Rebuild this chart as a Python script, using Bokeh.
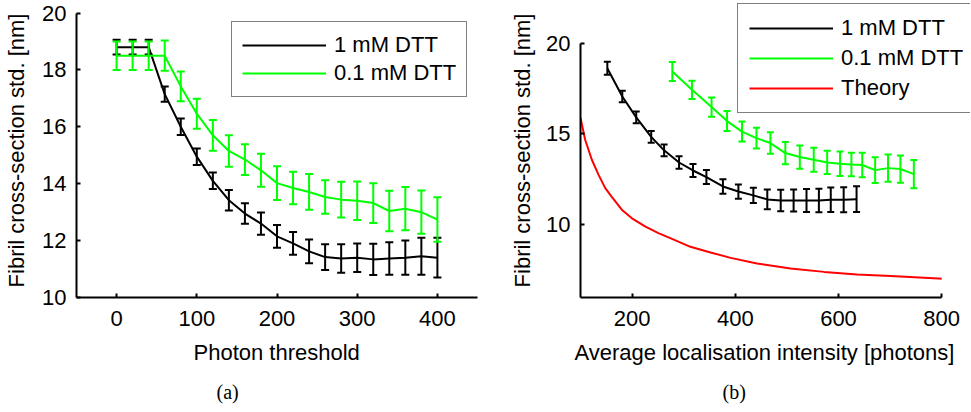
from bokeh.plotting import figure
from bokeh.models import (ColumnDataSource, Legend, LegendItem, Range1d, FixedTicker, Title)
from bokeh.layouts import row
from bokeh.embed import file_html
from bokeh.resources import INLINE

# ---------------- data: panel (a) ----------------
threshold = [0, 20, 40, 60, 80, 100, 120, 140, 160, 180, 200, 220, 240, 260, 280, 300, 320, 340, 360, 380, 400]
a_black = [18.8, 18.8, 18.8, 17.15, 16.0, 14.95, 14.1, 13.42, 12.95, 12.6, 12.15, 11.9, 11.62, 11.42, 11.37, 11.4, 11.34, 11.37, 11.4, 11.45, 11.4]
a_black_err = [0.26, 0.26, 0.26, 0.27, 0.29, 0.29, 0.29, 0.36, 0.36, 0.39, 0.4, 0.4, 0.42, 0.45, 0.5, 0.5, 0.55, 0.57, 0.6, 0.65, 0.7]
a_green = [18.5, 18.5, 18.5, 18.5, 17.42, 16.46, 15.7, 15.15, 14.85, 14.47, 14.02, 13.85, 13.71, 13.53, 13.44, 13.4, 13.32, 13.04, 13.12, 13.0, 12.74]
a_green_err = [0.5, 0.5, 0.5, 0.53, 0.52, 0.53, 0.54, 0.55, 0.54, 0.58, 0.59, 0.57, 0.63, 0.59, 0.63, 0.68, 0.7, 0.71, 0.76, 0.76, 0.78]
a_xticks = [0, 100, 200, 300, 400]
a_yticks = [10, 12, 14, 16, 18, 20]

# ---------------- data: panel (b) ----------------
b_black_x = [152, 181, 208, 237, 262, 291, 318, 344, 376, 406, 435, 462, 488, 513, 538, 562, 585, 610, 635]
b_black = [18.62, 17.06, 15.91, 14.84, 14.1, 13.43, 12.99, 12.63, 12.11, 11.83, 11.62, 11.4, 11.34, 11.34, 11.34, 11.34, 11.38, 11.38, 11.41]
b_black_err = [0.36, 0.32, 0.32, 0.32, 0.32, 0.34, 0.36, 0.39, 0.4, 0.39, 0.42, 0.54, 0.59, 0.61, 0.63, 0.65, 0.67, 0.69, 0.71]
b_green_x = [278, 316, 354, 384, 413, 441, 468, 497, 525, 552, 578, 603, 625, 646, 671, 696, 720, 746]
b_green = [18.44, 17.43, 16.48, 15.71, 15.13, 14.77, 14.5, 13.95, 13.73, 13.58, 13.43, 13.36, 13.32, 13.29, 13.01, 13.12, 13.07, 12.79]
b_green_err = [0.52, 0.5, 0.53, 0.55, 0.55, 0.57, 0.59, 0.61, 0.64, 0.66, 0.64, 0.67, 0.65, 0.67, 0.71, 0.75, 0.75, 0.78]
theory_x = [100, 109, 122, 135, 148, 161, 180, 199, 225, 251, 274, 313, 352, 391, 442, 507, 572, 636, 701, 794, 800]
theory_y = [15.9, 14.68, 13.58, 12.75, 12.02, 11.52, 10.83, 10.37, 9.91, 9.54, 9.27, 8.79, 8.48, 8.18, 7.87, 7.59, 7.41, 7.26, 7.18, 7.04, 7.03]
b_xticks = [200, 400, 600, 800]
b_yticks = [10, 15, 20]

labels = ["1 mM DTT", "0.1 mM DTT", "Theory"]
BLACK, GREEN, RED = "#000000", "#00ff00", "#ff0000"
FONT = "Liberation Sans"
SERIF = "Liberation Serif"
FS = "22px"


def style(p, xticks, yticks, xbounds, ybounds, ylabel, ystandoff):
    p.title.visible = False
    p.xgrid.visible = False
    p.ygrid.visible = False
    p.outline_line_color = None
    p.background_fill_color = "white"
    p.border_fill_color = "white"
    p.xaxis.ticker = FixedTicker(ticks=xticks)
    p.yaxis.ticker = FixedTicker(ticks=yticks)
    p.xaxis.bounds = xbounds
    p.yaxis.bounds = ybounds
    p.xaxis.axis_label = None
    p.yaxis.axis_label = ylabel
    for ax in (p.xaxis[0], p.yaxis[0]):
        ax.axis_line_width = 2
        ax.axis_line_color = "black"
        ax.major_tick_in = 4
        ax.major_tick_out = 0
        ax.major_tick_line_width = 2
        ax.major_tick_line_color = "black"
        ax.minor_tick_line_color = None
        ax.major_label_text_font = FONT
        ax.major_label_text_font_size = FS
        ax.major_label_text_color = "black"
        ax.axis_label_text_font = FONT
        ax.axis_label_text_font_size = FS
        ax.axis_label_text_font_style = "normal"
        ax.axis_label_text_color = "black"
    p.xaxis[0].major_label_standoff = 13
    p.yaxis[0].major_label_standoff = 10
    p.yaxis[0].axis_label_standoff = ystandoff


def errorbars(p, x, y, err, color, cap):
    src = ColumnDataSource(dict(x=x, y=y,
                                lo=[v - e for v, e in zip(y, err)],
                                hi=[v + e for v, e in zip(y, err)]))
    p.segment(x0="x", y0="lo", x1="x", y1="hi", source=src, line_color=color, line_width=2)
    p.scatter(x="x", y="lo", source=src, marker="dash", size=cap, line_color=color, line_width=2)
    p.scatter(x="x", y="hi", source=src, marker="dash", size=cap, line_color=color, line_width=2)
    return p.line(x="x", y="y", source=src, line_color=color, line_width=2)


def make_legend(p, renderers, names, loc, glyph_w, spacing, pad):
    leg = Legend(items=[LegendItem(label=n, renderers=[r]) for n, r in zip(names, renderers)],
                 location=loc)
    leg.border_line_color = "black"
    leg.border_line_width = 1.5
    leg.background_fill_color = "white"
    leg.background_fill_alpha = 1
    leg.label_text_font = FONT
    leg.label_text_font_size = FS
    leg.label_text_color = "black"
    leg.glyph_width = glyph_w
    leg.glyph_height = 20
    leg.label_height = 20
    leg.label_standoff = 8
    leg.spacing = spacing
    leg.padding = pad
    leg.margin = 0
    p.add_layout(leg)


def below_text(p, text, offset, standoff, font, size):
    t = Title(text=text, align="left", offset=offset, standoff=standoff, text_font=font,
              text_font_size=size, text_font_style="normal", text_color="black")
    p.add_layout(t, "below")


H = 411
TOP = 3
LABEL_STANDOFF = 19
CAPTION_STANDOFF = 9

# ---------------- panel (a) ----------------
pa = figure(width=480, height=H, x_range=Range1d(-50, 450), y_range=Range1d(10, 20.334),
            output_backend="svg", toolbar_location=None,
            min_border_left=76, min_border_right=3, min_border_top=TOP, min_border_bottom=H - 297)
style(pa, a_xticks, a_yticks, (-50, 450), (10, 20), "Fibril cross-section std. [nm]", 10)
ra1 = errorbars(pa, threshold, a_black, a_black_err, BLACK, 8)
ra2 = errorbars(pa, threshold, a_green, a_green_err, GREEN, 8)
make_legend(pa, [ra1, ra2], labels[:2], (155, 200), 84, 2, 10)
below_text(pa, "Photon threshold", 117, LABEL_STANDOFF, FONT, FS)
below_text(pa, "(a)", 140, CAPTION_STANDOFF, SERIF, "20px")

# ---------------- panel (b) ----------------
# the frame runs to the right edge (the legend lives there); the x label is a
# left-aligned text so it stays centred under the 100..800 axis line
pb = figure(width=491, height=H, x_range=Range1d(100, 855.8), y_range=Range1d(6, 22.18),
            output_backend="svg", toolbar_location=None,
            min_border_left=100, min_border_right=1, min_border_top=TOP, min_border_bottom=H - 297)
style(pb, b_xticks, b_yticks, (100, 800), (6, 20), "Fibril cross-section std. [nm]", 8)
rb1 = errorbars(pb, b_black_x, b_black, b_black_err, BLACK, 7)
rb2 = errorbars(pb, b_green_x, b_green, b_green_err, GREEN, 7)
rb3 = pb.line(theory_x, theory_y, line_color=RED, line_width=2)
make_legend(pb, [rb1, rb2, rb3], labels, (157, 184), 84, 4, 11)
below_text(pb, "Average localisation intensity [photons]", -6, LABEL_STANDOFF, FONT, FS)
below_text(pb, "(b)", 142, CAPTION_STANDOFF, SERIF, "20px")

layout = row(pa, pb, spacing=0)
open("out.html", "w").write(file_html(layout, INLINE))
